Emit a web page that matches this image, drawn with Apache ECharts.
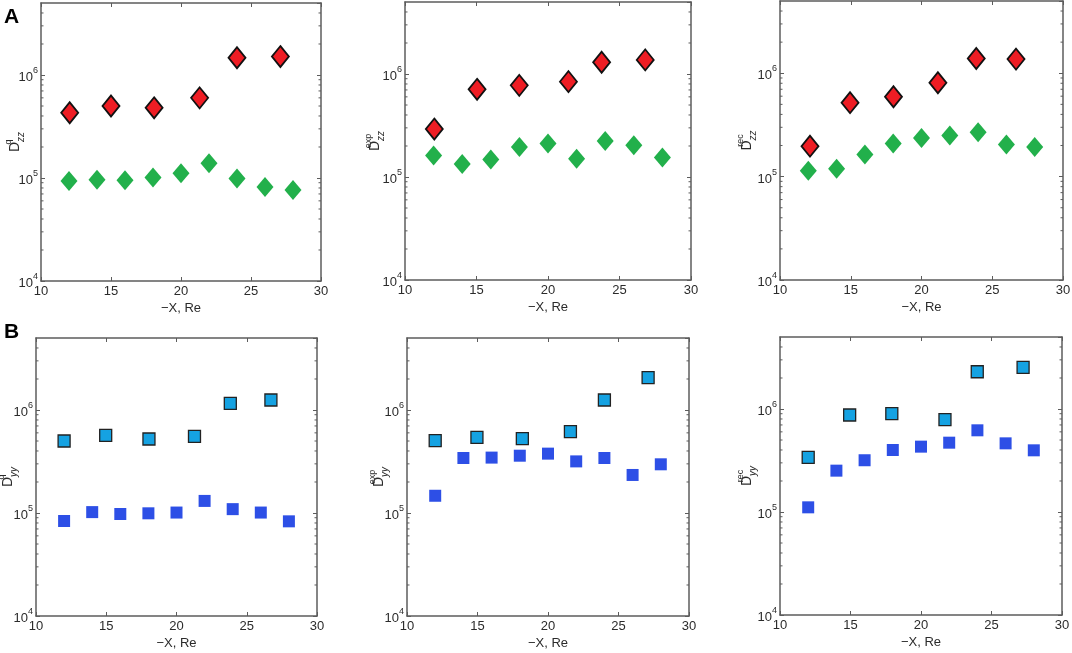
<!DOCTYPE html>
<html>
<head>
<meta charset="utf-8">
<script src="https://cdn.jsdelivr.net/npm/echarts@6/dist/echarts.min.js"></script>
<style>
  html, body { margin: 0; padding: 0; background: #fff; }
  #chart { width: 1072px; height: 653px; }
</style>
</head>
<body>
<div id="chart"></div>
<script>
// shared x for the small-marker series (every 2 Re)
const xEven = [12, 14, 16, 18, 20, 22, 24, 26, 28];

// A: D_zz (red diamonds = large values, green diamonds = small values)
const zzQ_redX = [12.05, 15.0, 18.08, 21.33, 24.0, 27.1];
const zzQ_red = [4.3e5, 5.0e5, 4.8e5, 6.0e5, 1.47e6, 1.51e6];
const zzQ_green = [9.35e4, 9.6e4, 9.5e4, 1.01e5, 1.11e5, 1.39e5, 9.9e4, 8.2e4, 7.65e4];

const zzExp_redX = [12.05, 15.04, 17.99, 21.43, 23.75, 26.8];
const zzExp_red = [2.92e5, 7.1e5, 7.76e5, 8.43e5, 1.3e6, 1.37e6];
const zzExp_green = [1.62e5, 1.34e5, 1.48e5, 1.95e5, 2.12e5, 1.5e5, 2.24e5, 2.03e5, 1.55e5];

const zzRec_redX = [12.12, 14.95, 18.02, 21.16, 23.87, 26.68];
const zzRec_red = [1.97e5, 5.19e5, 5.93e5, 8.1e5, 1.39e6, 1.37e6];
const zzRec_green = [1.14e5, 1.19e5, 1.64e5, 2.09e5, 2.37e5, 2.5e5, 2.69e5, 2.05e5, 1.94e5];

// B: D_yy (cyan squares = large values, blue squares = small values)
const yyQ_cyanX = [12.0, 14.96, 18.04, 21.28, 23.83, 26.72];
const yyQ_cyan = [5.0e5, 5.68e5, 5.23e5, 5.55e5, 1.16e6, 1.25e6];
const yyQ_blue = [8.36e4, 1.02e5, 9.78e4, 9.93e4, 1.01e5, 1.31e5, 1.09e5, 1.01e5, 8.3e4];

const yyExp_cyanX = [12.0, 14.96, 18.18, 21.59, 24.0, 27.1];
const yyExp_cyan = [5.04e5, 5.43e5, 5.27e5, 6.16e5, 1.25e6, 2.06e6];
const yyExp_blue = [1.47e5, 3.42e5, 3.45e5, 3.6e5, 3.77e5, 3.17e5, 3.42e5, 2.34e5, 2.97e5];

const yyRec_cyanX = [12.0, 14.94, 17.93, 21.7, 23.99, 27.24];
const yyRec_cyan = [3.39e5, 8.74e5, 9.0e5, 7.88e5, 2.3e6, 2.54e6];
const yyRec_blue = [1.11e5, 2.52e5, 3.18e5, 4.0e5, 4.31e5, 4.71e5, 6.21e5, 4.64e5, 3.97e5];

// axis ticks
const xTicks = [10, 15, 20, 25, 30];
const yMin = 1e4, yMax = 5e6;
const minorMult = [2, 3, 4, 5, 6, 7, 8, 9];
const decades = [1e4, 1e5, 1e6];

var minorTicks = [];
decades.forEach(function (d) {
  minorMult.forEach(function (m) {
    if (d * m < yMax) minorTicks.push(d * m);
  });
});

const FONT = '"Liberation Sans", Arial, Helvetica, sans-serif';
const AXIS_COLOR = '#5c5c5c';
const TEXT_COLOR = '#2b2b2b';

var panels = [
  { grid: { left: 41, top: 3, width: 280, height: 278 }, sup: 'q', sub: 'zz', kind: 'A', nameGap: 15,
    bigX: zzQ_redX, big: zzQ_red, small: zzQ_green },
  { grid: { left: 405, top: 2, width: 286, height: 278 }, sup: 'exp', sub: 'zz', kind: 'A', nameGap: 19,
    bigX: zzExp_redX, big: zzExp_red, small: zzExp_green },
  { grid: { left: 780, top: 1, width: 283, height: 279 }, sup: 'rec', sub: 'zz', kind: 'A', nameGap: 22,
    bigX: zzRec_redX, big: zzRec_red, small: zzRec_green },
  { grid: { left: 36, top: 338, width: 281, height: 278 }, sup: 'q', sub: 'yy', kind: 'B', nameGap: 17,
    bigX: yyQ_cyanX, big: yyQ_cyan, small: yyQ_blue },
  { grid: { left: 407, top: 338, width: 282, height: 278 }, sup: 'exp', sub: 'yy', kind: 'B', nameGap: 17,
    bigX: yyExp_cyanX, big: yyExp_cyan, small: yyExp_blue },
  { grid: { left: 780, top: 337, width: 282, height: 278 }, sup: 'rec', sub: 'yy', kind: 'B', nameGap: 22,
    bigX: yyRec_cyanX, big: yyRec_cyan, small: yyRec_blue }
];

var grids = [], xAxes = [], yAxes = [], series = [];

function zip(xs, ys) {
  return ys.map(function (y, i) { return [xs[i], y]; });
}

panels.forEach(function (p, i) {
  grids.push(Object.assign({ show: false, containLabel: false, outerBoundsMode: 'none' }, p.grid));

  var axisLine = { show: true, onZero: false, lineStyle: { color: AXIS_COLOR, width: 1.5 } };
  var tick = { show: true, inside: true, length: 4, lineStyle: { color: AXIS_COLOR, width: 1 } };

  // bottom x axis
  xAxes.push({
    type: 'value', gridIndex: i, min: 10, max: 30, interval: 5,
    axisLine: axisLine, axisTick: tick, splitLine: { show: false },
    axisLabel: { color: TEXT_COLOR, fontSize: 13, fontFamily: FONT, margin: 4 },
    name: '\u2212X, Re', nameLocation: 'middle', nameGap: 21, nameMoveOverlap: false,
    nameTextStyle: { color: TEXT_COLOR, fontSize: 13, fontFamily: FONT }
  });
  // top x axis (box + ticks)
  xAxes.push({
    type: 'value', gridIndex: i, min: 10, max: 30, interval: 5, position: 'top',
    axisLine: axisLine, axisTick: tick, splitLine: { show: false }, axisLabel: { show: false }
  });

  // left y axis (log)
  yAxes.push({
    type: 'log', logBase: 10, gridIndex: i, min: yMin, max: yMax, interval: 1,
    axisLine: axisLine, axisTick: tick, splitLine: { show: false },
    axisLabel: {
      showMaxLabel: false, margin: 3,
      formatter: function (v) {
        var e = Math.log10(v);
        if (Math.abs(e - Math.round(e)) > 1e-6) return '';
        return '{b|10}{e|' + Math.round(e) + '}';
      },
      rich: {
        b: { fontSize: 13, color: TEXT_COLOR, fontFamily: FONT, lineHeight: 18, verticalAlign: 'bottom' },
        e: { fontSize: 9, color: TEXT_COLOR, fontFamily: FONT, lineHeight: 18, verticalAlign: 'top' }
      }
    },
    name: '{d|D}{sup|' + p.sup + '}{sub|' + p.sub + '}',
    nameLocation: 'middle', nameGap: p.nameGap, nameRotate: 90, nameMoveOverlap: false,
    nameTextStyle: {
      padding: [0, 0, 0, 0],
      rich: {
        d: { fontSize: 14, color: TEXT_COLOR, fontFamily: FONT, lineHeight: 22, verticalAlign: 'middle' },
        sup: { fontSize: 9, color: TEXT_COLOR, fontFamily: FONT, lineHeight: 22, verticalAlign: 'top',
               width: 0, align: 'left' },
        sub: { fontSize: 10, color: TEXT_COLOR, fontFamily: FONT, fontStyle: 'italic', lineHeight: 22,
               verticalAlign: 'bottom', align: 'left' }
      }
    }
  });
  // right y axis (box + ticks)
  yAxes.push({
    type: 'log', logBase: 10, gridIndex: i, min: yMin, max: yMax, interval: 1, position: 'right',
    axisLine: axisLine, axisTick: tick, splitLine: { show: false }, axisLabel: { show: false }
  });

  var xi = i * 2, yi = i * 2;

  // minor log ticks on both sides
  series.push({
    type: 'custom', xAxisIndex: xi, yAxisIndex: yi, silent: true, z: 1,
    data: minorTicks.map(function (v) { return [10, v]; }),
    renderItem: function (params, api) {
      var v = api.value(1);
      var l = api.coord([10, v]);
      var r = api.coord([30, v]);
      var st = { stroke: AXIS_COLOR, lineWidth: 1 };
      return {
        type: 'group', children: [
          { type: 'line', shape: { x1: l[0], y1: l[1], x2: l[0] + 2.5, y2: l[1] }, style: st },
          { type: 'line', shape: { x1: r[0] - 2.5, y1: r[1], x2: r[0], y2: r[1] }, style: st }
        ]
      };
    }
  });

  if (p.kind === 'A') {
    series.push({
      type: 'scatter', xAxisIndex: xi, yAxisIndex: yi, symbol: 'diamond', symbolSize: [17, 20],
      itemStyle: { color: '#22b04b', opacity: 1 }, z: 3,
      data: zip(xEven, p.small)
    });
    series.push({
      type: 'scatter', xAxisIndex: xi, yAxisIndex: yi, symbol: 'diamond', symbolSize: [17, 21],
      itemStyle: { color: '#ee1d24', borderColor: '#111', borderWidth: 1.8, opacity: 1 }, z: 4,
      data: zip(p.bigX, p.big)
    });
  } else {
    series.push({
      type: 'scatter', xAxisIndex: xi, yAxisIndex: yi, symbol: 'rect', symbolSize: 12,
      itemStyle: { color: '#2d4fe6', opacity: 1 }, z: 3,
      data: zip(xEven, p.small)
    });
    series.push({
      type: 'scatter', xAxisIndex: xi, yAxisIndex: yi, symbol: 'rect', symbolSize: 12,
      itemStyle: { color: '#15a2e2', borderColor: '#222', borderWidth: 1.3, opacity: 1 }, z: 4,
      data: zip(p.bigX, p.big)
    });
  }
});

var chart = echarts.init(document.getElementById('chart'), null, { renderer: 'canvas' });
chart.setOption({
  animation: false,
  backgroundColor: '#fff',
  grid: grids,
  xAxis: xAxes,
  yAxis: yAxes,
  series: series,
  graphic: [
    { type: 'text', left: 4, top: 7, style: { text: 'A', font: 'bold 21px ' + FONT, fill: '#000' } },
    { type: 'text', left: 4, top: 322, style: { text: 'B', font: 'bold 21px ' + FONT, fill: '#000' } }
  ]
});
</script>
</body>
</html>
